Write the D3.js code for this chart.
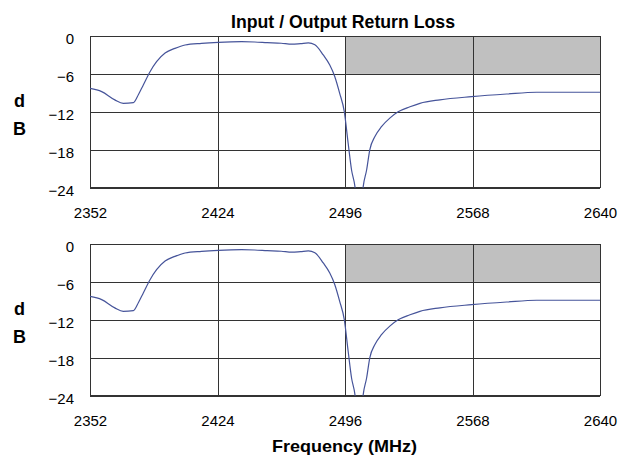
<!DOCTYPE html>
<html>
<head>
  <meta charset="utf-8">
  <script src="https://cdnjs.cloudflare.com/ajax/libs/d3/7.8.5/d3.min.js"></script>
  <title>Input / Output Return Loss</title>
  <style>
    body { margin: 0; background: #fff; }
    text { font-family: "Liberation Sans", Arial, sans-serif; fill: #000; }
  </style>
</head>
<body>
<script>
// frequency (MHz) and return loss (dB)
var freq = [2352, 2358.6, 2366, 2370.8, 2376.5, 2379.3, 2382.1, 2385.9, 2389.6, 2394.4,
  2400, 2405.7, 2415, 2424.5, 2437.6, 2445, 2452, 2460, 2466, 2471, 2475.3, 2479,
  2483.7, 2487.4, 2490.2, 2493, 2495.6, 2497.8, 2499.7, 2501.6, 2503, 2505, 2506.3,
  2508.2, 2510, 2512.9, 2516.6, 2521.3, 2526, 2532.7, 2538.3, 2549.6, 2567.5, 2587.3,
  2604.2, 2640];
var inputLoss = [-8.3, -8.8, -10.1, -10.65, -10.55, -9.3, -7.75, -5.65, -4.06, -2.7,
  -1.95, -1.42, -1.16, -1.0, -0.9, -0.95, -1.05, -1.15, -1.3, -1.2, -1.1, -1.4,
  -3.0, -4.6, -6.4, -9.07, -11.97, -17, -21.2, -23.8, -27.5, -27.5, -23.8,
  -21.2, -18, -15.9, -14.35, -13, -12, -11.2, -10.65, -10.1, -9.6, -9.18,
  -8.9, -8.9];
var outputLoss = inputLoss.slice();

var xTicks = [2352, 2424, 2496, 2568, 2640];
var yTicks = [0, -6, -12, -18, -24];
var maskBand = [2496, 2640];   // shaded region, 0 to -6 dB
var maskLevel = [0, -6];

var W = 626, H = 468;
var left = 90, right = 600, panelH = 151.7;
var panelTops = [36, 244];

var svg = d3.select("body").append("svg")
  .attr("width", W).attr("height", H);

var x = d3.scaleLinear().domain([2352, 2640]).range([0, right - left]);
var y = d3.scaleLinear().domain([-24, 0]).range([panelH, 0]);

svg.append("defs").append("clipPath").attr("id", "clip")
  .append("rect").attr("width", right - left).attr("height", panelH);

var line = d3.line()
  .x(function(d) { return x(d[0]); })
  .y(function(d) { return y(d[1]); })
  .curve(d3.curveMonotoneX);

[inputLoss, outputLoss].forEach(function(series, i) {
  var g = svg.append("g").attr("transform", "translate(" + left + "," + panelTops[i] + ")");

  g.append("rect")
    .attr("x", x(maskBand[0])).attr("width", x(maskBand[1]) - x(maskBand[0]))
    .attr("y", y(maskLevel[0])).attr("height", y(maskLevel[1]) - y(maskLevel[0]))
    .attr("fill", "#c0c0c0");

  // grid
  g.append("g").call(d3.axisLeft(y).tickValues(yTicks).tickSize(-(right - left)).tickFormat(""))
    .call(function(a) {
      a.select(".domain").remove();
      a.selectAll("line").attr("stroke", "#333").attr("shape-rendering", "crispEdges");
    });
  g.append("g").attr("transform", "translate(0," + panelH + ")")
    .call(d3.axisBottom(x).tickValues(xTicks).tickSize(-panelH).tickFormat(""))
    .call(function(a) {
      a.select(".domain").remove();
      a.selectAll("line").attr("stroke", "#333").attr("shape-rendering", "crispEdges");
    });
  g.append("rect").attr("width", right - left).attr("height", panelH)
    .attr("fill", "none").attr("stroke", "#333").attr("shape-rendering", "crispEdges");

  // tick labels
  g.append("g").call(d3.axisLeft(y).tickValues(yTicks).tickSize(0).tickPadding(16).tickFormat(d3.format("d")))
    .call(function(a) {
      a.select(".domain").remove();
      a.selectAll("text").attr("font-size", 15).attr("dy", "0.5em")
        .attr("font-family", "Liberation Sans, Arial, sans-serif").attr("fill", "#000");
    });
  g.append("g").attr("transform", "translate(0," + panelH + ")")
    .call(d3.axisBottom(x).tickValues(xTicks).tickSize(0).tickPadding(20).tickFormat(d3.format("d")))
    .call(function(a) {
      a.select(".domain").remove();
      a.selectAll("text").attr("font-size", 15)
        .attr("font-family", "Liberation Sans, Arial, sans-serif").attr("fill", "#000");
    });

  g.append("path")
    .datum(d3.zip(freq, series))
    .attr("d", line)
    .attr("clip-path", "url(#clip)")
    .attr("fill", "none")
    .attr("stroke", "#46549a")
    .attr("stroke-width", 1.2);

  // "d" / "B" stacked unit label
  g.append("text").attr("x", 19.5 - left).attr("y", 71).attr("text-anchor", "middle")
    .attr("font-size", 18).attr("font-weight", "bold").text("d");
  g.append("text").attr("x", 19.5 - left).attr("y", 99).attr("text-anchor", "middle")
    .attr("font-size", 18).attr("font-weight", "bold").text("B");
});

svg.append("text").attr("x", 343).attr("y", 28).attr("text-anchor", "middle")
  .attr("font-size", 19).attr("font-weight", "bold")
  .attr("textLength", 224).attr("lengthAdjust", "spacingAndGlyphs")
  .text("Input / Output Return Loss");

svg.append("text").attr("x", 344.5).attr("y", 452).attr("text-anchor", "middle")
  .attr("font-size", 16.5).attr("font-weight", "bold")
  .attr("textLength", 145).attr("lengthAdjust", "spacingAndGlyphs")
  .text("Frequency (MHz)");
</script>
</body>
</html>
